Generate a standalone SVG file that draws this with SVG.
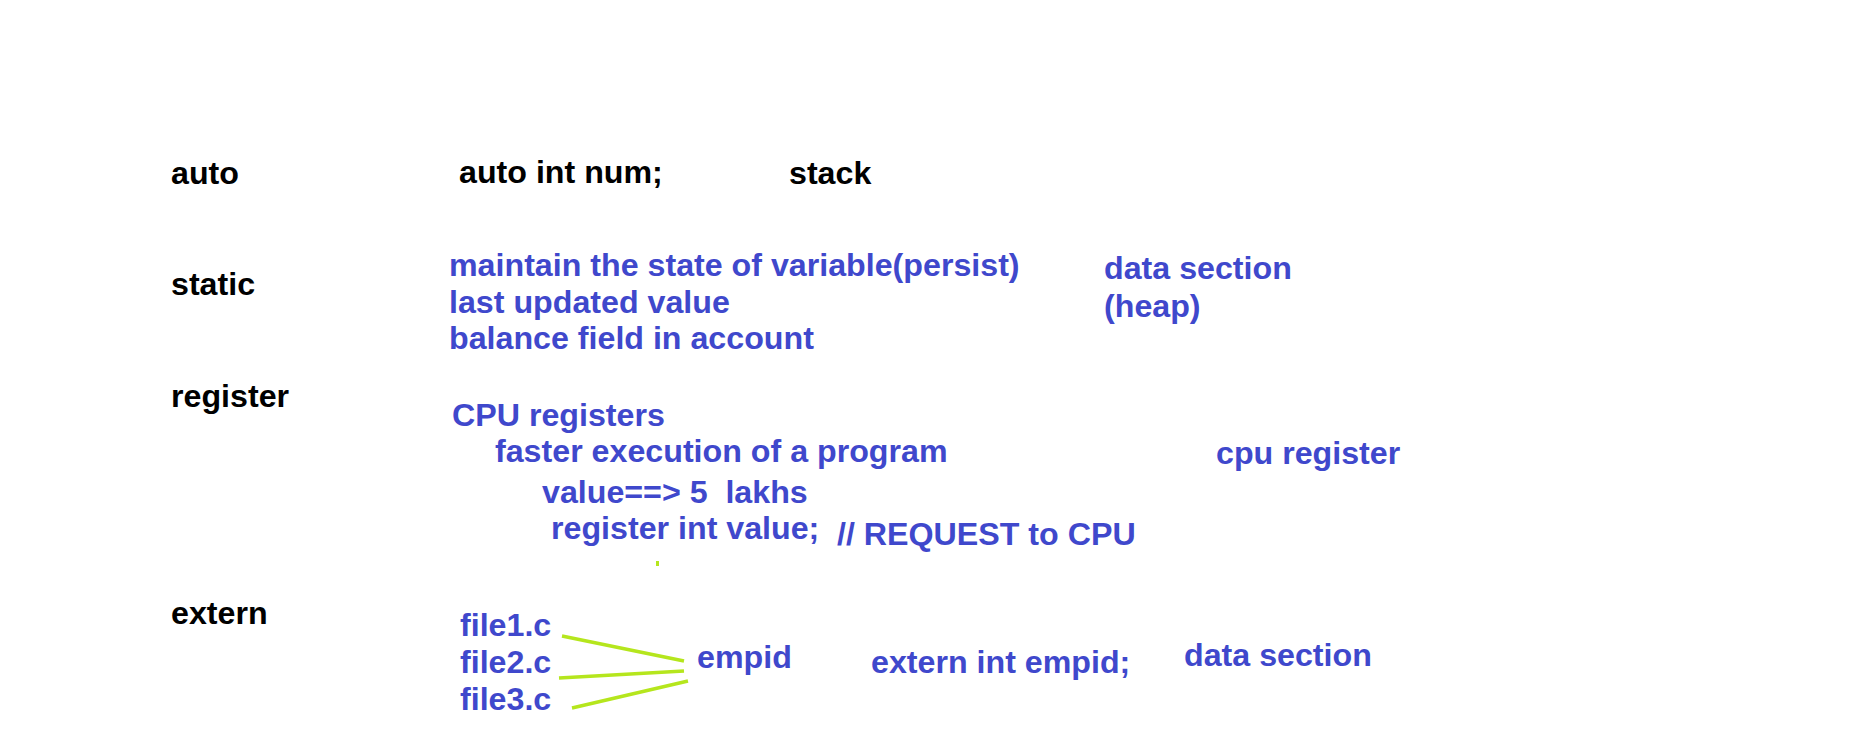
<svg xmlns="http://www.w3.org/2000/svg" width="1850" height="743" viewBox="0 0 1850 743">
<style>
text{font-family:"Liberation Sans",Arial,sans-serif;font-weight:bold;font-size:32.2px}
.k{fill:#000000}
.b{fill:#3F48CC}
.ln{stroke:#B5E61D;stroke-width:3.5;fill:none}
</style>
<rect width="1850" height="743" fill="#ffffff"/>
<g id="auto">
<text class="k" x="171" y="184">auto</text>
<text class="k" x="459" y="183">auto int num;</text>
<text class="k" x="789" y="184">stack</text>
</g>
<g id="static">
<text class="k" x="171" y="295">static</text>
<text class="b" x="449" y="276">maintain the state of variable(persist)</text>
<text class="b" x="449" y="313">last updated value</text>
<text class="b" x="449" y="349">balance field in account</text>
<text class="b" x="1104" y="279">data section</text>
<text class="b" x="1104" y="317">(heap)</text>
</g>
<g id="register">
<text class="k" x="171" y="407">register</text>
<text class="b" x="452" y="426">CPU registers</text>
<text class="b" x="495" y="462">faster execution of a program</text>
<text class="b" x="1216" y="464">cpu register</text>
<text class="b" x="542" y="503" xml:space="preserve">value==&gt; 5  lakhs</text>
<text class="b" x="551" y="539">register int value;</text>
<text class="b" x="837" y="545">// REQUEST to CPU</text>
</g>
<g id="extern">
<text class="k" x="171" y="624">extern</text>
<text class="b" x="460" y="636">file1.c</text>
<text class="b" x="460" y="673">file2.c</text>
<text class="b" x="460" y="710">file3.c</text>
<text class="b" x="697" y="668">empid</text>
<text class="b" x="871" y="673">extern int empid;</text>
<text class="b" x="1184" y="666">data section</text>
</g>
<g id="connectors">
<line class="ln" x1="562" y1="636" x2="684" y2="661"/>
<line class="ln" x1="559" y1="678" x2="684" y2="671"/>
<line class="ln" x1="572" y1="708" x2="688" y2="681"/>
<rect x="656" y="561" width="3" height="5" fill="#B5E61D"/>
</g>
</svg>
